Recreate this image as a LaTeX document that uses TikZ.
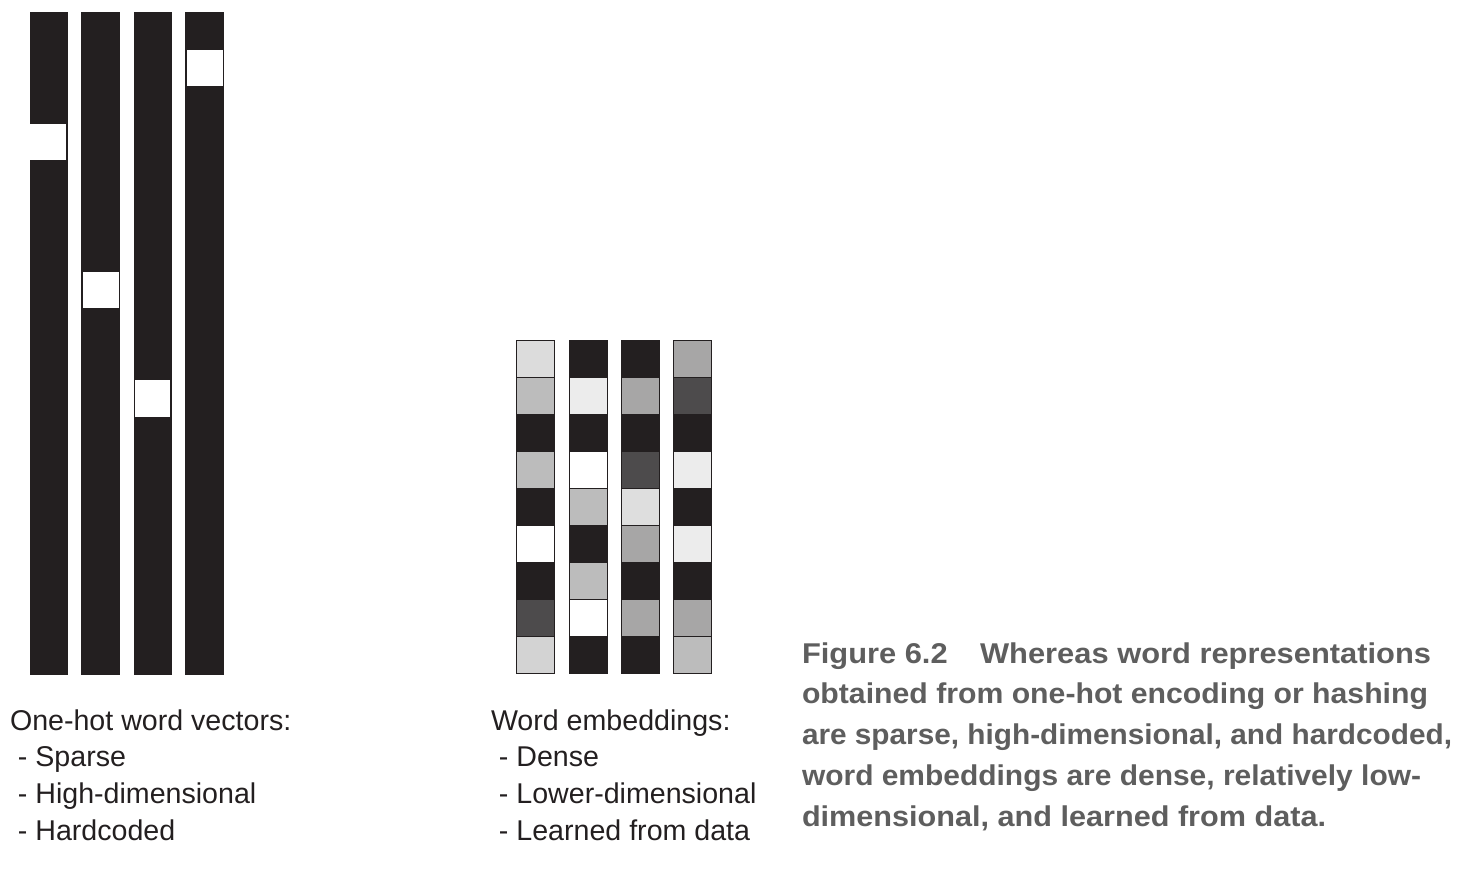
\documentclass[tikz,border=0pt]{standalone}
\usepackage{fontspec}
\setmainfont{Liberation Sans}
\newfontfamily\capfont{Liberation Sans}
\definecolor{ink}{HTML}{231F20}
\definecolor{capgray}{HTML}{5E5E5E}
\definecolor{gA}{HTML}{DCDCDC}
\definecolor{gB}{HTML}{BCBCBC}
\definecolor{gC}{HTML}{4D4B4C}
\definecolor{gD}{HTML}{D3D3D3}
\definecolor{gE}{HTML}{ECECEC}
\definecolor{gF}{HTML}{A7A6A6}
\definecolor{gG}{HTML}{DEDEDE}
\tikzset{
  lbl/.style={font=\fontsize{28.6}{36.7}\selectfont, text=ink, anchor=base west, inner sep=0pt, outer sep=0pt},
  captext/.style={font=\capfont\bfseries\fontsize{28.6}{41}\selectfont, text=capgray, anchor=base west, inner sep=0pt, outer sep=0pt},
  cell/.style={draw=ink, line width=1pt}
}
\begin{document}
\begin{tikzpicture}[x=1pt,y=-1pt]
\useasboundingbox (0,0) rectangle (1462,880);
% one-hot bars
\foreach \xa/\xb/\ya/\yb/\wa/\wb in {30/68/124/160/30/66, 81/120/272/308/83/119, 134/172/380/417/135/170, 185/224/50/86/187/223}{
  \fill[ink] (\xa,12) rectangle (\xb,675);
  \fill[white] (\wa,\ya) rectangle (\wb,\yb);
}
% embeddings
\foreach \c [count=\r from 0] in {gA,gB,ink,gB,ink,white,ink,gC,gD}
  \filldraw[cell, fill=\c] (516.5,{340+37*\r}) rectangle ++(38,37);
\foreach \c [count=\r from 0] in {ink,gE,ink,white,gB,ink,gB,white,ink}
  \filldraw[cell, fill=\c] (569,{340+37*\r}) rectangle ++(38,37);
\foreach \c [count=\r from 0] in {ink,gF,ink,gC,gG,gF,ink,gF,ink}
  \filldraw[cell, fill=\c] (621,{340+37*\r}) rectangle ++(38,37);
\foreach \c [count=\r from 0] in {gF,gC,ink,gE,ink,gE,ink,gF,gB}
  \filldraw[cell, fill=\c] (673,{340+37*\r}) rectangle ++(38,37);
% labels
\node[lbl] (oh1) at (10,730) {One-hot word vectors:};
\node[lbl] (oh2) at (10,766.7) {\ - Sparse};
\node[lbl] (oh3) at (10,803.4) {\ - High-dimensional};
\node[lbl] (oh4) at (10,840.1) {\ - Hardcoded};
\node[lbl] (we1) at (491,730) {Word embeddings:};
\node[lbl] (we2) at (491,766.7) {\ - Dense};
\node[lbl] (we3) at (491,803.4) {\ - Lower-dimensional};
\node[lbl] (we4) at (491,840.1) {\ - Learned from data};
% caption
\node[captext] (cap1) at (802,663) {\resizebox{629pt}{\height}{Figure 6.2\hspace{30pt}Whereas word representations}};
\node[captext] (cap2) at (802,703.75) {\resizebox{626pt}{\height}{obtained from one-hot encoding or hashing}};
\node[captext] (cap3) at (802,744.5) {\resizebox{650pt}{\height}{are sparse, high-dimensional, and hardcoded,}};
\node[captext] (cap4) at (802,785.25) {\resizebox{619pt}{\height}{word embeddings are dense, relatively low-}};
\node[captext] (cap5) at (802,826) {\resizebox{524pt}{\height}{dimensional, and learned from data.}};
\end{tikzpicture}
\end{document}
